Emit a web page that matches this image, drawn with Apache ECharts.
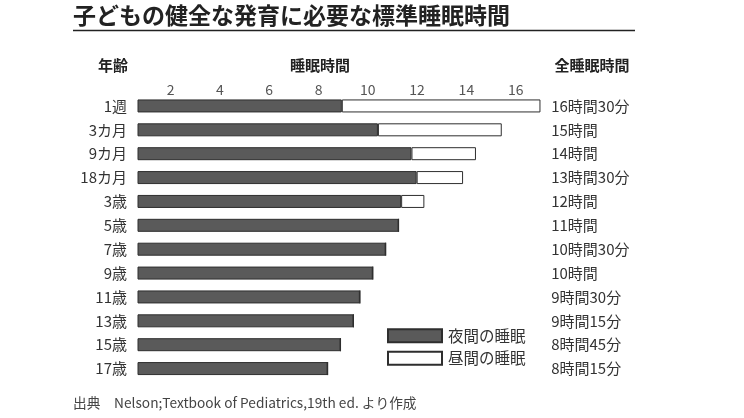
<!DOCTYPE html>
<html><head><meta charset="utf-8">
<script src="https://cdn.jsdelivr.net/npm/echarts@6/dist/echarts.min.js"></script>
<style>html,body{margin:0;padding:0;background:#fff}#c{width:744px;height:418px}</style>
</head><body><div id="c"></div>
<script>
// Data
const ages = ['1週','3カ月','9カ月','18カ月','3歳','5歳','7歳','9歳','11歳','13歳','15歳','17歳'];
const totalLabels = ['16時間30分','15時間','14時間','13時間30分','12時間','11時間','10時間30分','10時間','9時間30分','9時間15分','8時間45分','8時間15分'];
const nightHours = [8.8, 10.2, 11.5, 11.7, 11.1, 11, 10.5, 10, 9.5, 9.25, 8.75, 8.25];
const dayHours   = [7.7, 4.8, 2.5, 1.8, 0.9, 0, 0, 0, 0, 0, 0, 0];
const hourTicks = [2, 4, 6, 8, 10, 12, 14, 16];
const titleText = '子どもの健全な発育に必要な標準睡眠時間';
const headerAge = '年齢';
const headerSleep = '睡眠時間';
const headerTotal = '全睡眠時間';
const sourceText = '出典　Nelson;Textbook of Pediatrics,19th ed. より作成';
const seriesNames = ['夜間の睡眠', '昼間の睡眠'];

const FONT = '"Noto Sans CJK JP", "Noto Sans", sans-serif';
const chart = echarts.init(document.getElementById('c'), null, {renderer: 'canvas'});
const option = {
  animation: false,
  backgroundColor: '#fff',
  textStyle: {fontFamily: FONT},
  grid: {left: 138, top: 94, width: 410.2, height: 286.5, containLabel: false},
  legend: {
    orient: 'vertical', left: 382, top: 323, padding: 5,
    itemWidth: 54, itemHeight: 13, itemGap: 7,
    icon: 'rect',
    data: seriesNames,
    textStyle: {fontSize: 15.5, color: '#333', fontFamily: FONT, padding: [0, 0, 0, 1]}
  },
  xAxis: [
    {type: 'value', min: 0.9, max: 16.8, show: false},
    {type: 'value', position: 'top', min: 0.674, max: 17.32,
     axisLine: {show: false}, axisTick: {show: false}, splitLine: {show: false},
     axisLabel: {customValues: hourTicks, fontSize: 14, color: '#555', margin: -3, fontFamily: FONT}}
  ],
  yAxis: [
    {type: 'category', data: ages, inverse: true,
     axisLine: {show: false}, axisTick: {show: false},
     axisLabel: {fontSize: 15, color: '#333', margin: 11, fontFamily: FONT}},
    {type: 'category', data: totalLabels, inverse: true, position: 'right',
     axisLine: {show: false}, axisTick: {show: false},
     axisLabel: {fontSize: 15, color: '#333', margin: 3, align: 'left', fontFamily: FONT}}
  ],
  series: [
    {name: seriesNames[0], type: 'bar', stack: 's', xAxisIndex: 0, yAxisIndex: 0,
     data: nightHours, barWidth: 13,
     itemStyle: {color: '#5a5a5a', borderColor: '#2e2e2e', borderWidth: 1}},
    {name: seriesNames[1], type: 'bar', stack: 's', xAxisIndex: 0, yAxisIndex: 0,
     data: dayHours, barWidth: 13,
     itemStyle: {color: '#ffffff', borderColor: '#2e2e2e', borderWidth: 1}}
  ],
  graphic: [
    {type: 'text', left: 73, top: 4, style: {text: titleText, font: 'bold 23px ' + FONT, fill: '#222'}},
    {type: 'line', shape: {x1: 73, y1: 30.5, x2: 635, y2: 30.5}, style: {stroke: '#222', lineWidth: 1.5}},
    {type: 'text', x: 113, y: 65, style: {text: headerAge, font: 'bold 15px ' + FONT, fill: '#222', align: 'center', verticalAlign: 'middle'}},
    {type: 'text', x: 320, y: 65, style: {text: headerSleep, font: 'bold 15px ' + FONT, fill: '#222', align: 'center', verticalAlign: 'middle'}},
    {type: 'text', x: 592, y: 65, style: {text: headerTotal, font: 'bold 15px ' + FONT, fill: '#222', align: 'center', verticalAlign: 'middle'}},
    {type: 'text', x: 73, y: 403, style: {text: sourceText, font: '13.7px ' + FONT, fill: '#444', align: 'left', verticalAlign: 'middle'}}
  ]
};
chart.setOption(option);
</script>
</body></html>
